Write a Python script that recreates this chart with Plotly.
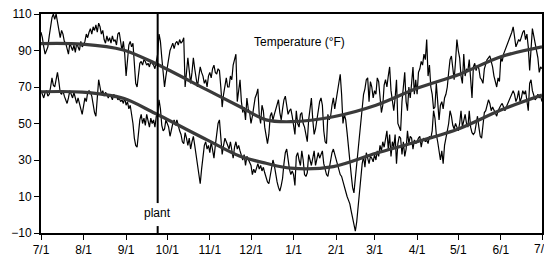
import plotly.graph_objects as go
import pandas as pd

start_date = "2008-07-01"

daily_high = [
    100, 97, 92, 88, 90, 92, 98, 104, 108, 110,
    107, 110, 106, 100, 97, 101, 99, 95, 94, 91,
    88, 94, 92, 90, 93, 89, 94, 92, 90, 95,
    92, 93, 95, 99, 97, 100, 102, 99, 103, 101,
    104, 100, 105, 103, 99, 101, 96, 94, 98, 95,
    97, 94, 98, 95, 96, 93, 99, 100, 94,
    90, 95, 88, 76, 86, 93, 95, 92, 94, 85, 72,
    70, 78, 83, 84, 82, 85, 84, 82, 83, 81, 84, 83, 82, 80, 84,
    88, 99, 95, 86, 77, 70, 76, 81, 86, 90, 92, 94, 91, 94, 95, 93, 96, 94, 95, 97,
    70, 80, 86, 79, 72, 78, 86, 80, 74, 70, 76, 81, 78, 76, 72, 74, 70,
    76, 78, 75, 80, 82, 78, 77, 80, 79, 70,
    59, 66, 72, 75, 70, 70, 76, 74, 82, 86,
    88, 62, 70, 74, 62, 56, 59, 52, 64, 58,
    56, 50, 54, 60, 64, 66, 69, 55, 50, 60,
    57, 48, 43, 39, 44, 54, 56, 52, 55, 58,
    61, 63, 56, 52, 58, 63, 65, 60, 55, 57,
    58, 54,
    50, 44, 57, 50, 48, 55, 56, 50, 48, 44,
    40, 52, 58, 64, 52, 44, 47, 52, 56, 62,
    64, 60, 46, 40, 39, 55, 52, 54, 60, 64,
    58, 63, 66, 72, 77, 66, 50, 55, 52, 45,
    36, 30, 22, 15, 12, 20, 28, 36, 40, 48,
    58, 66, 69, 74, 75, 62, 73, 70, 64, 68,
    66,
    75, 73, 66, 56, 60, 71, 74, 70, 76, 81,
    68, 62, 57, 64, 74, 50, 48, 46, 62, 70,
    78, 62, 57, 70, 64, 72, 81, 66, 74, 66,
    78, 80, 84, 82, 88, 85, 96, 76, 82, 70,
    66, 58, 59, 72, 63, 52, 60, 62, 58, 64,
    66, 70, 78, 85, 87, 80, 74, 84, 96, 90,
    86,
    76, 72, 88, 76, 80, 79, 85, 76, 64, 81,
    83, 79, 82, 80, 75, 74, 72, 80, 83, 85,
    86, 87, 84, 81, 76, 72, 70, 75, 73, 86,
    84, 88, 90, 92, 93, 96, 97, 100, 103, 97,
    92, 94, 96, 95, 98, 100, 101, 96, 99, 92,
    79, 90, 102, 98, 94, 90, 86, 78, 81, 80,
]

daily_low = [
    68, 66, 64, 67, 68, 65, 66, 70, 75, 71,
    70, 74, 78, 73, 67, 66, 68, 65, 63, 61,
    64, 68, 66, 64, 67, 63, 61, 64, 60, 58,
    55, 60, 64, 62, 67, 68, 67, 65, 60, 56,
    54, 65, 74, 70, 66, 68, 65, 67, 66, 64,
    66, 65, 63, 66, 64, 65, 63, 64, 62,
    63, 61, 64, 60, 62, 58, 60, 56, 50, 42, 38,
    37, 45, 52, 55, 50, 53, 49, 55, 51, 48, 53, 50, 52, 48, 54,
    55, 63, 58, 49, 46, 47, 52, 50, 48, 43, 47, 50, 52, 49, 52, 48, 46, 44, 40, 39,
    45, 42, 38, 42, 36, 40, 43, 38, 33, 28, 24, 17, 25, 32, 38, 40, 36,
    38, 34, 40, 36, 31, 38, 43, 50, 52, 44,
    33, 38, 42, 40, 38, 36, 40, 34, 31, 37,
    40, 36, 38, 35, 32, 30, 33, 27, 32, 30,
    28, 27, 22, 25, 23, 26, 28, 25, 27, 24,
    26, 23, 20, 18, 17, 21, 24, 30, 27, 22,
    18, 15, 13, 16, 20, 28, 34, 36, 30, 25,
    22, 24,
    22, 16, 32, 34, 30, 27, 35, 30, 22, 21,
    23, 33, 30, 27, 31, 35, 27, 30, 34, 31,
    33, 35, 28, 24, 22, 21, 26, 30, 34, 36,
    33, 30, 27, 25, 22, 21, 18, 16, 13, 10,
    8, 6, 2, -2, -6, -9, -4, 4, 14, 22,
    28, 32, 26, 34, 30, 28, 32, 31, 29, 33,
    30,
    35, 32, 38, 35, 40, 37, 43, 46, 36, 44,
    32, 40, 37, 44, 28, 39, 43, 42, 33, 40,
    32, 36, 46, 39, 43, 42, 36, 41, 39, 40,
    42, 43, 37, 41, 42, 40, 41, 39, 43, 42,
    46, 57, 53, 44, 40, 36, 30, 35, 28, 38,
    43, 46, 50, 57, 54, 49, 47, 50, 48, 46,
    50,
    57, 48, 51, 55, 50, 48, 57, 48, 45, 44,
    45, 50, 54, 48, 43, 42, 50, 56, 57, 61,
    63, 61, 57, 59, 57, 55, 54, 57, 59, 60,
    61, 59, 57, 59, 61, 63, 65, 67, 68, 66,
    62, 64, 68, 62, 64, 68, 66, 68, 62, 57,
    72, 74, 68, 65, 63, 64, 66, 64, 65, 62,
]

smooth_days = [0, 30, 60, 83, 121, 145, 164, 182, 213, 244, 274, 305, 335, 365]
smooth_high = [93.8, 93.5, 90.3, 83, 68.4, 59.2, 52, 51, 53.7, 60, 69.3, 77, 86.6, 92]
smooth_low = [67.4, 67.2, 63.8, 55.6, 41, 32, 28.2, 25.5, 26.4, 33.7, 40, 47.3, 57.4, 65.6]

tick_dates = ["2008-07-01", "2008-08-01", "2008-09-01", "2008-10-01", "2008-11-01",
              "2008-12-01", "2009-01-01", "2009-02-01", "2009-03-01", "2009-04-01",
              "2009-05-01", "2009-06-01", "2009-07-01"]
tick_labels = ["7/1", "8/1", "9/1", "10/1", "11/1", "12/1", "1/1", "2/1",
               "3/1", "4/1", "5/1", "6/1", "7/1"]
y_ticks = [-10, 10, 30, 50, 70, 90, 110]

plant_date = "2008-09-24"
plant_label = "plant"
title_text = "Temperature (°F)"

x_daily = pd.date_range(start_date, periods=len(daily_high), freq="D")
x_smooth = pd.Timestamp(start_date) + pd.to_timedelta(smooth_days, unit="D")

fig = go.Figure()
for ser in (daily_high, daily_low):
    fig.add_trace(go.Scatter(x=x_daily, y=ser, mode="lines",
                             line=dict(color="black", width=1.2), showlegend=False))
for ser in (smooth_high, smooth_low):
    fig.add_trace(go.Scatter(x=x_smooth, y=ser, mode="lines",
                             line=dict(color="#3a3a3a", width=3.2, shape="spline", smoothing=0.9),
                             showlegend=False))

# plant marker line, broken around its label
fig.add_shape(type="line", x0=plant_date, x1=plant_date, y0=110, y1=6.4,
              xref="x", yref="y", line=dict(color="black", width=2))
fig.add_shape(type="line", x0=plant_date, x1=plant_date, y0=-6.2, y1=-10,
              xref="x", yref="y", line=dict(color="black", width=2))
fig.add_annotation(x=plant_date, y=1, xref="x", yref="y", text=plant_label,
                   showarrow=False, font=dict(size=12, color="black"))
fig.add_annotation(x=0.515, y=0.913, xref="paper", yref="paper", text=title_text,
                   showarrow=False, font=dict(size=12, color="black"))
# last x tick label (Plotly drops it because it overflows the right edge)
fig.add_annotation(x=tick_dates[-1], y=0, xref="x", yref="paper", text=tick_labels[-1],
                   showarrow=False, xanchor="center", yanchor="top", yshift=-7,
                   font=dict(size=12, color="black"))

fig.update_layout(
    width=544, height=254,
    margin=dict(l=41, r=2, t=14, b=21),
    plot_bgcolor="white", paper_bgcolor="white",
    font=dict(family="Arial, Liberation Sans, sans-serif", size=12, color="black"),
    showlegend=False,
)
fig.update_xaxes(
    range=[tick_dates[0], tick_dates[-1]],
    tickvals=tick_dates, ticktext=tick_labels,
    ticks="outside", ticklen=5, tickwidth=1, tickcolor="black",
    showline=True, linecolor="black", linewidth=2, mirror=True,
    showgrid=False, zeroline=False, automargin=False,
)
fig.update_yaxes(
    range=[-10, 110], tickvals=y_ticks,
    ticks="outside", ticklen=5, tickwidth=1, tickcolor="black",
    showline=True, linecolor="black", linewidth=2, mirror=True,
    showgrid=False, zeroline=False, automargin=False,
)

fig.write_html(
    "out.html",
    config={"displayModeBar": False},
    post_script="document.body.style.margin='0';document.body.style.padding='0';",
)
